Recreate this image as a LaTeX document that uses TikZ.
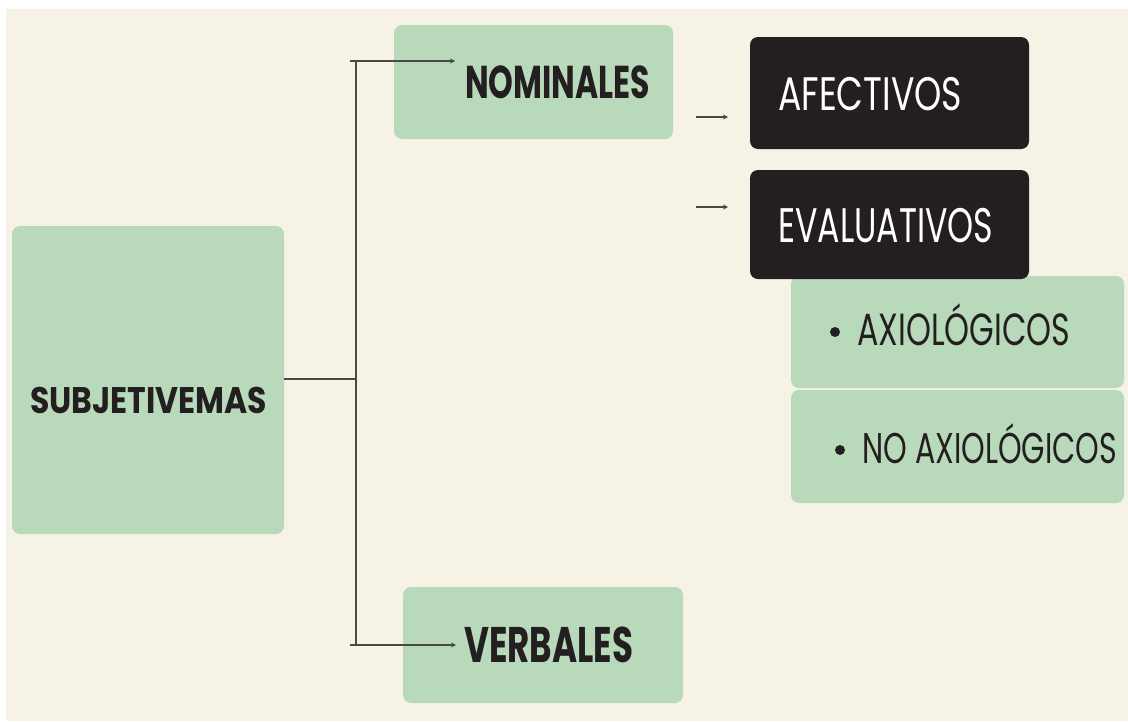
\documentclass[tikz,border=0pt]{standalone}
\usepackage{fontspec}
\setmainfont{Poppins}
\usetikzlibrary{arrows.meta}
\definecolor{bgbeige}{HTML}{F6F2E6}
\definecolor{boxgreen}{HTML}{B9DABA}
\definecolor{boxdark}{HTML}{231F20}
\definecolor{linegray}{HTML}{4A4846}
\newsavebox\fitbox
\newlength\fitlen
\newcommand\fitt[4]{\sbox\fitbox{\fontsize{#2}{#2}\selectfont#3#4}\fitlen=\wd\fitbox\pgfmathsetmacro\fitratio{#1/\fitlen}\scalebox{\fitratio}[1]{\usebox\fitbox}}
\tikzset{
  greenbox/.style={fill=boxgreen, rounded corners=8pt},
  darkbox/.style={fill=boxdark, rounded corners=8pt},
  lbl/.style={inner sep=0pt, anchor=base west, text=boxdark},
  wlbl/.style={inner sep=0pt, anchor=base west, text=white},
  bulletdot/.style={circle, fill=boxdark, inner sep=0pt, minimum size=10pt},
  conn/.style={draw=linegray, line width=2pt},
  arr/.style={conn, -{Stealth[length=5pt,width=5pt]}},
}
\begin{document}
\begin{tikzpicture}[x=1pt,y=-1pt]
\useasboundingbox (0,0) rectangle (1128,721);
\fill[white] (0,0) rectangle (1128,721);
\fill[bgbeige] (6,9) rectangle (1128,721);
% boxes
\fill[greenbox] (12,226) rectangle (284,534);
\node[inner sep=0pt] (subj) at (148,380) {};
\coordinate (subjE) at (284,379);
\fill[greenbox] (394,25) rectangle (673,139);
\fill[greenbox] (403,587) rectangle (683,703);
\fill[greenbox] (791,276) rectangle (1124,388);
\fill[greenbox] (791,390) rectangle (1124,503);
\fill[darkbox] (750,37) rectangle (1029,149);
\fill[darkbox] (750,170) rectangle (1029,279);
% texts
\node[lbl] (tsubj) at (30,413) {\fitt{237}{37}{\bfseries}{SUBJETIVEMAS}};
\node[lbl] (tnom) at (465,98) {\fitt{185}{46}{\bfseries}{NOMINALES}};
\node[lbl] (tverb) at (464,662) {\fitt{169}{50}{\bfseries}{VERBALES}};
\node[wlbl] (tafe) at (778,110) {\fitt{184}{47}{}{AFECTIVOS}};
\node[wlbl] (teva) at (778,242) {\fitt{215}{48.5}{}{EVALUATIVOS}};
\node[bulletdot] (b1) at (835,332) {};
\node[lbl] (taxi) at (857,345) {\fitt{213}{45}{}{AXIOLÓGICOS}};
\node[bulletdot] (b2) at (840,450) {};
\node[lbl] (tnoaxi) at (862,463) {\fitt{255}{43}{}{NO AXIOLÓGICOS}};
% connectors
\coordinate (join) at (356,379);
\coordinate (vtop) at (356,61);
\coordinate (vbot) at (356,645);
\coordinate (ltop) at (350,61);
\coordinate (lbot) at (350,645);
\coordinate (nomin) at (455,61);
\coordinate (verbin) at (456,645);
\draw[conn] (subjE) -- (join);
\draw[conn] (vtop) -- (vbot);
\draw[arr] (ltop) -- (nomin);
\draw[arr] (lbot) -- (verbin);
\coordinate (a1s) at (696,117);
\coordinate (a1e) at (728,117);
\coordinate (a2s) at (696,207);
\coordinate (a2e) at (728,207);
\draw[arr] (a1s) -- (a1e);
\draw[arr] (a2s) -- (a2e);
\end{tikzpicture}
\end{document}
